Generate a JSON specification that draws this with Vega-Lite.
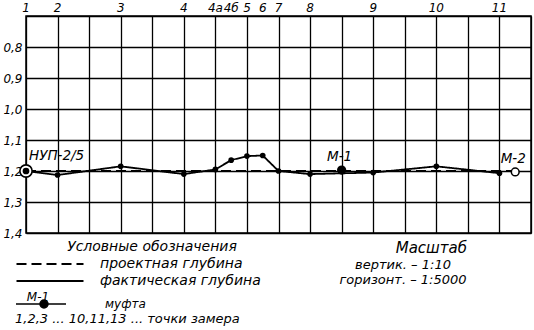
{
  "$schema": "https://vega.github.io/schema/vega-lite/v6.json",
  "width": 505,
  "height": 217,
  "autosize": {"type": "none"},
  "padding": {"left": 26, "top": 16, "right": 3, "bottom": 97},
  "background": "white",
  "datasets": {
    "depth": [
      {"series": "проектная глубина", "point": null, "pos": 0, "depth": 1.2},
      {"series": "проектная глубина", "point": null, "pos": 15.5, "depth": 1.2},
      {"series": "фактическая глубина", "point": "1", "pos": 0, "depth": 1.2},
      {"series": "фактическая глубина", "point": "2", "pos": 1, "depth": 1.213},
      {"series": "фактическая глубина", "point": "3", "pos": 3, "depth": 1.185},
      {"series": "фактическая глубина", "point": "4", "pos": 5, "depth": 1.21},
      {"series": "фактическая глубина", "point": "4а", "pos": 6, "depth": 1.195},
      {"series": "фактическая глубина", "point": "4б", "pos": 6.5, "depth": 1.165},
      {"series": "фактическая глубина", "point": "5", "pos": 7, "depth": 1.152},
      {"series": "фактическая глубина", "point": "6", "pos": 7.5, "depth": 1.15},
      {"series": "фактическая глубина", "point": "7", "pos": 8, "depth": 1.2},
      {"series": "фактическая глубина", "point": "8", "pos": 9, "depth": 1.21},
      {"series": "фактическая глубина", "point": "9", "pos": 11, "depth": 1.205},
      {"series": "фактическая глубина", "point": "10", "pos": 13, "depth": 1.185},
      {"series": "фактическая глубина", "point": "11", "pos": 15, "depth": 1.207}
    ],
    "objects": [
      {"label": "НУП-2/5", "kind": "НУП", "pos": 0, "depth": 1.2},
      {"label": "М-1", "kind": "муфта", "pos": 10, "depth": 1.197},
      {"label": "М-2", "kind": "М-2", "pos": 15.5, "depth": 1.203}
    ],
    "scaleNote": [
      {"scale": "вертик. – 1:10"},
      {"scale": "горизонт. – 1:5000"}
    ],
    "pointsNote": [
      {"note": "1,2,3 ... 10,11,13 ... точки замера"}
    ]
  },
  "resolve": {"scale": {"x": "shared", "y": "shared"}},
  "layer": [
    {
      "data": {"name": "depth"},
      "mark": {"type": "line", "color": "black", "strokeWidth": 1.8},
      "encoding": {
        "x": {
          "field": "pos", "type": "quantitative",
          "scale": {"domain": [0, 16], "nice": false, "zero": false},
          "axis": {"orient": "bottom", "values": [0,1,2,3,4,5,6,7,8,9,10,11,12,13,14,15,16], "tickCount": 40, "grid": true, "labels": false, "ticks": false, "domain": false, "title": null, "gridColor": "black", "gridWidth": 1.3, "gridOpacity": 1}
        },
        "y": {
          "field": "depth", "type": "quantitative",
          "scale": {"domain": [0.7, 1.4], "reverse": true, "nice": false, "zero": false},
          "axis": {"values": [0.7, 0.8, 0.9, 1.0, 1.1, 1.2, 1.3, 1.4], "tickCount": 40, "labelOverlap": false, "labelExpr": "datum.value < 0.75 ? '' : replace(format(datum.value, '.1f'), '.', ',')", "grid": true, "ticks": false, "domain": false, "title": null, "gridColor": "black", "gridWidth": 1.3, "gridOpacity": 1, "labelFont": "DejaVu Sans", "labelFontStyle": "italic", "labelFontSize": 12, "labelColor": "black", "labelPadding": 4}
        },
        "strokeDash": {
          "field": "series", "type": "nominal",
          "scale": {"domain": ["проектная глубина", "фактическая глубина"], "range": [[10, 5], [1, 0]]},
          "legend": {"title": "Условные обозначения", "orient": "none", "legendX": 17, "legendY": 224, "titleFontSize": 14, "labelFontSize": 14, "symbolType": "M-6.7,0H6.7", "symbolSize": 100, "symbolStrokeWidth": 2, "symbolStrokeColor": "black", "labelOffset": 43, "rowPadding": 3, "titlePadding": 3, "titleAnchor": "middle"}
        }
      }
    },
    {
      "data": {"name": "depth"},
      "transform": [{"filter": "datum.series == 'фактическая глубина'"}],
      "mark": {"type": "point", "filled": true, "color": "black", "size": 32, "opacity": 1},
      "encoding": {
        "x": {"field": "pos", "type": "quantitative"},
        "y": {"field": "depth", "type": "quantitative"}
      }
    },
    {
      "data": {"name": "depth"},
      "transform": [{"filter": "datum.series == 'фактическая глубина'"}],
      "mark": {"type": "text", "font": "DejaVu Sans", "fontStyle": "italic", "fontSize": 12, "color": "black", "baseline": "alphabetic", "dy": -4},
      "encoding": {
        "x": {"field": "pos", "type": "quantitative"},
        "y": {"datum": 0.7},
        "text": {"field": "point"}
      }
    },
    {
      "data": {"name": "objects"},
      "transform": [{"filter": "datum.kind == 'НУП'"}],
      "mark": {"type": "point", "filled": false, "fill": "white", "stroke": "black", "strokeWidth": 1.6, "size": 150, "opacity": 1},
      "encoding": {
        "x": {"field": "pos", "type": "quantitative"},
        "y": {"field": "depth", "type": "quantitative"}
      }
    },
    {
      "data": {"name": "objects"},
      "transform": [{"filter": "datum.kind == 'НУП'"}],
      "mark": {"type": "point", "filled": true, "color": "black", "size": 45, "opacity": 1},
      "encoding": {
        "x": {"field": "pos", "type": "quantitative"},
        "y": {"field": "depth", "type": "quantitative"}
      }
    },
    {
      "data": {"name": "objects"},
      "transform": [{"filter": "datum.kind == 'муфта'"}],
      "mark": {"type": "point", "filled": true, "size": 85, "opacity": 1},
      "encoding": {
        "x": {"field": "pos", "type": "quantitative"},
        "y": {"field": "depth", "type": "quantitative"},
        "fill": {
          "field": "kind", "type": "nominal",
          "scale": {"domain": ["муфта"], "range": ["black"]},
          "legend": {"title": "М-1", "orient": "none", "legendX": 1, "legendY": 276, "titleFontSize": 12, "titlePadding": -6, "titleAnchor": "start", "titleAlign": "center", "labelFontSize": 12, "symbolType": "M-7,0H5.5M-1,0A1,1 0 1,1 1,0A1,1 0 1,1 -1,0Z", "symbolSize": 64, "symbolStrokeColor": "black", "symbolStrokeWidth": 1.5, "symbolFillColor": "black", "labelOffset": 55, "encode": {"symbols": {"update": {"stroke": {"value": "black"}, "strokeWidth": {"value": 1.5}, "fill": {"value": "black"}, "opacity": {"value": 1}}}}}
        }
      }
    },
    {
      "data": {"name": "objects"},
      "transform": [{"filter": "datum.kind == 'М-2'"}],
      "mark": {"type": "point", "filled": false, "fill": "white", "stroke": "black", "strokeWidth": 1.5, "size": 60, "opacity": 1},
      "encoding": {
        "x": {"field": "pos", "type": "quantitative"},
        "y": {"field": "depth", "type": "quantitative"}
      }
    },
    {
      "data": {"name": "objects"},
      "transform": [{"filter": "datum.kind == 'НУП'"}],
      "mark": {"type": "text", "font": "DejaVu Sans", "fontStyle": "italic", "fontSize": 13.5, "color": "black", "align": "left", "baseline": "alphabetic", "dx": 3, "dy": -11},
      "encoding": {
        "x": {"field": "pos", "type": "quantitative"},
        "y": {"field": "depth", "type": "quantitative"},
        "text": {"field": "label"}
      }
    },
    {
      "data": {"name": "objects"},
      "transform": [{"filter": "datum.kind != 'НУП'"}],
      "mark": {"type": "text", "font": "DejaVu Sans", "fontStyle": "italic", "fontSize": 13.5, "color": "black", "align": "center", "baseline": "alphabetic", "dx": -2, "dy": -9},
      "encoding": {
        "x": {"field": "pos", "type": "quantitative"},
        "y": {"field": "depth", "type": "quantitative"},
        "text": {"field": "label"}
      }
    },
    {
      "data": {"name": "scaleNote"},
      "mark": {"type": "point", "opacity": 0},
      "encoding": {
        "stroke": {
          "field": "scale", "type": "nominal", "sort": null,
          "legend": {"title": "Масштаб", "orient": "none", "legendX": 364, "legendY": 225, "titleFontSize": 15, "symbolSize": 0, "symbolOpacity": 0, "labelOffset": 0, "labelAlign": "center", "rowPadding": 1, "titlePadding": 2, "titleAnchor": "end"}
        }
      }
    },
    {
      "data": {"name": "pointsNote"},
      "mark": {"type": "point", "opacity": 0},
      "encoding": {
        "shape": {
          "field": "note", "type": "nominal",
          "legend": {"title": null, "orient": "none", "legendX": -24, "legendY": 296, "symbolSize": 0, "symbolOpacity": 0, "labelOffset": 0, "labelLimit": 400}
        }
      }
    }
  ],
  "config": {
    "view": {"stroke": "black", "strokeWidth": 1.5},
    "legend": {
      "padding": 0,
      "labelFont": "DejaVu Sans", "labelFontStyle": "italic", "labelFontSize": 13, "labelColor": "black", "labelLimit": 300,
      "titleFont": "DejaVu Sans", "titleFontStyle": "italic", "titleFontSize": 13, "titleFontWeight": "normal", "titleColor": "black"
    }
  }
}
